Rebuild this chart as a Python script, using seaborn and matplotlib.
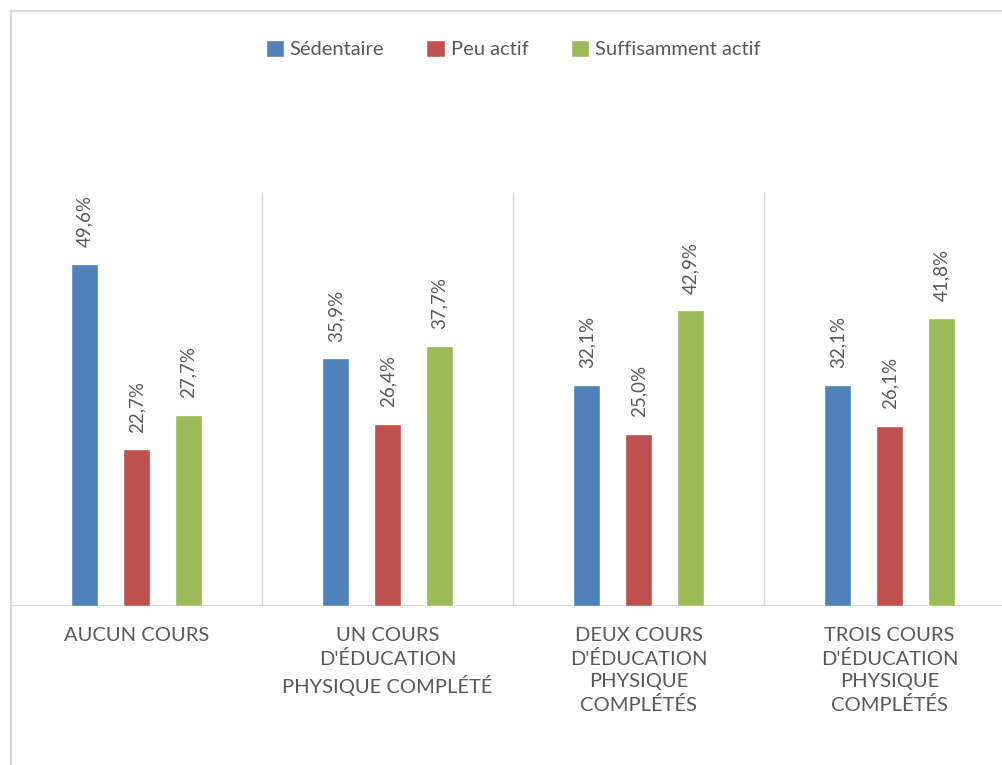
import matplotlib
matplotlib.use("Agg")
import matplotlib.pyplot as plt
from matplotlib.lines import Line2D
import seaborn as sns
import pandas as pd

categories = ["AUCUN COURS",
              "UN COURS\nD'ÉDUCATION\nPHYSIQUE COMPLÉTÉ",
              "DEUX COURS\nD'ÉDUCATION\nPHYSIQUE\nCOMPLÉTÉS",
              "TROIS COURS\nD'ÉDUCATION\nPHYSIQUE\nCOMPLÉTÉS"]
series = ["Sédentaire", "Peu actif", "Suffisamment actif"]
sedentaire = [49.6, 35.9, 32.1, 32.1]
peu_actif = [22.7, 26.4, 25.0, 26.1]
suffisamment_actif = [27.7, 37.7, 42.9, 41.8]
colors = ["#4F81BD", "#C0504D", "#9BBB59"]

rows = []
for s, vals in zip(series, [sedentaire, peu_actif, suffisamment_actif]):
    for c, v in zip(categories, vals):
        rows.append({"cat": c, "serie": s, "val": v})
df = pd.DataFrame(rows)

sns.set_style("white")
plt.rcParams['font.family'] = ['Lato', 'DejaVu Sans']
text_color = "#595959"
grid_color = "#D9D9D9"

W, H = 1002, 765
fig = plt.figure(figsize=(W / 100, H / 100), dpi=100)
ax = fig.add_axes([11 / W, (H - 606) / H, 1004 / W, (606 - 192.3) / H])

sns.barplot(data=df, x="cat", y="val", hue="serie", order=categories,
            hue_order=series, palette=colors, saturation=1, width=0.62,
            gap=0.47, ax=ax, legend=True)

ax.set_ylim(0, 60)
ax.set_xlim(-0.5, 3.5)
for sp in ax.spines.values():
    sp.set_visible(False)
ax.set_yticks([])
ax.set_xlabel("")
ax.set_ylabel("")
ax.axhline(0, color=grid_color, lw=1.5, zorder=0)
ax.vlines([0.5, 1.5, 2.5], 0, 60, color=grid_color, lw=1.0, zorder=0)
ax.tick_params(axis="x", length=0, pad=15, labelsize=14.5, labelcolor=text_color)
for t in ax.get_xticklabels():
    t.set_linespacing(1.4)
    t.set_va("top")

for cont in ax.containers:
    labels = [f"{b.get_height():.1f}%".replace(".", ",") for b in cont]
    ax.bar_label(cont, labels=labels, rotation=90, padding=12,
                 fontsize=13.5, color=text_color)

handles, lbls = ax.get_legend_handles_labels()
ax.legend(handles, lbls, loc="center", bbox_to_anchor=(0.5, 1.346), ncol=3,
          frameon=False, fontsize=14.5, labelcolor=text_color,
          handlelength=0.9, handleheight=0.9, handletextpad=0.3,
          columnspacing=2.1)

# outer frame
fig.add_artist(Line2D([10.5 / W, 10.5 / W], [0, 1 - 11 / H], color=grid_color,
                      lw=1.6, transform=fig.transFigure))
fig.add_artist(Line2D([10 / W, 1], [1 - 11 / H, 1 - 11 / H], color=grid_color,
                      lw=1.6, transform=fig.transFigure))

fig.savefig("out.png", dpi=100)
